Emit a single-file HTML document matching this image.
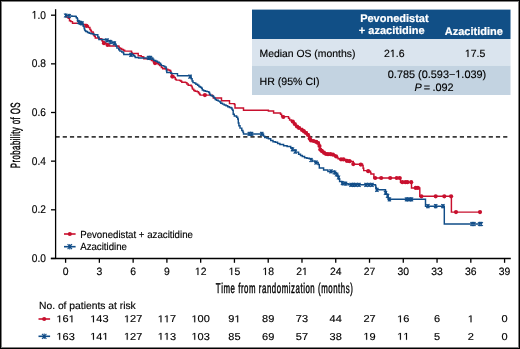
<!DOCTYPE html>
<html><head><meta charset="utf-8"><style>
html,body{margin:0;padding:0;background:#fff;}
#f{position:relative;width:520px;height:349px;overflow:hidden;background:#fff;font-family:"Liberation Sans",sans-serif;}
#b1{position:absolute;left:0;top:0;width:518px;height:347px;border:1px solid #000;}
#b2{position:absolute;left:1px;top:1px;width:516px;height:345px;border:1px solid #808080;}
svg{position:absolute;left:0;top:0;will-change:transform;}
text{font-family:"Liberation Sans",sans-serif;fill:#000;stroke:#000;stroke-width:0.15px;text-rendering:geometricPrecision;font-kerning:none;}
.w{fill:#fff;stroke:#fff;stroke-width:0.2px;}
</style></head><body><div id="f">
<svg width="520" height="349" viewBox="0 0 520 349">
<rect x="252" y="9.6" width="258.5" height="29.4" fill="#114f86"/>
<rect x="252" y="39" width="258.5" height="26.6" fill="#dae4ee"/>
<rect x="252" y="65.6" width="258.5" height="29.4" fill="#c3d3e1"/>
<line x1="55.5" y1="136.9" x2="508" y2="136.9" stroke="#3a3a3a" stroke-width="1.6" stroke-dasharray="4.2 3.02" stroke-dashoffset="0"/>
<line x1="55.6" y1="9.2" x2="55.6" y2="258.9" stroke="#000" stroke-width="1.3"/>
<line x1="50.8" y1="258.45" x2="510.8" y2="258.45" stroke="#000" stroke-width="1.5"/>
<line x1="51" y1="258.45" x2="55.6" y2="258.45" stroke="#000" stroke-width="1.3"/>
<line x1="51" y1="209.80" x2="55.6" y2="209.80" stroke="#000" stroke-width="1.3"/>
<line x1="51" y1="161.15" x2="55.6" y2="161.15" stroke="#000" stroke-width="1.3"/>
<line x1="51" y1="112.50" x2="55.6" y2="112.50" stroke="#000" stroke-width="1.3"/>
<line x1="51" y1="63.85" x2="55.6" y2="63.85" stroke="#000" stroke-width="1.3"/>
<line x1="51" y1="15.20" x2="55.6" y2="15.20" stroke="#000" stroke-width="1.3"/>
<line x1="65.60" y1="258.45" x2="65.60" y2="262.8" stroke="#000" stroke-width="1.3"/>
<line x1="99.37" y1="258.45" x2="99.37" y2="262.8" stroke="#000" stroke-width="1.3"/>
<line x1="133.14" y1="258.45" x2="133.14" y2="262.8" stroke="#000" stroke-width="1.3"/>
<line x1="166.90" y1="258.45" x2="166.90" y2="262.8" stroke="#000" stroke-width="1.3"/>
<line x1="200.67" y1="258.45" x2="200.67" y2="262.8" stroke="#000" stroke-width="1.3"/>
<line x1="234.44" y1="258.45" x2="234.44" y2="262.8" stroke="#000" stroke-width="1.3"/>
<line x1="268.21" y1="258.45" x2="268.21" y2="262.8" stroke="#000" stroke-width="1.3"/>
<line x1="301.98" y1="258.45" x2="301.98" y2="262.8" stroke="#000" stroke-width="1.3"/>
<line x1="335.74" y1="258.45" x2="335.74" y2="262.8" stroke="#000" stroke-width="1.3"/>
<line x1="369.51" y1="258.45" x2="369.51" y2="262.8" stroke="#000" stroke-width="1.3"/>
<line x1="403.28" y1="258.45" x2="403.28" y2="262.8" stroke="#000" stroke-width="1.3"/>
<line x1="437.05" y1="258.45" x2="437.05" y2="262.8" stroke="#000" stroke-width="1.3"/>
<line x1="470.82" y1="258.45" x2="470.82" y2="262.8" stroke="#000" stroke-width="1.3"/>
<line x1="504.58" y1="258.45" x2="504.58" y2="262.8" stroke="#000" stroke-width="1.3"/>
<path d="M65.0 15.4H66.5V16.9H68.2V18.2H69.5V20.8H70.8V21.6H72.5V23.3H82.5V24.4H85.5V25.9H88.4V27.4H89.9V29.4H90.8V30.8H91.4V32.0H93.1V33.0H93.5V35.0H94.4V36.2H95.3V37.9H99.3V38.6H101.0V39.0H101.9V40.8H102.7V42.0H104.0V43.3H106.2V43.8H107.9V45.0H109.6V45.9H118.2V46.3H119.1V47.6H119.9V48.5H121.7V49.4H123.4V50.2H124.7V51.1H131.5V52.4H132.0V53.4H138.2V55.8H141.2V56.6H142.9V57.0H143.8V58.8H150.6V59.6H151.5V60.5H153.2V61.8H154.5V63.1H155.8V63.5H158.4V64.4H159.7V65.6H161.4V67.4H162.7V68.7H165.3V69.1H167.8V69.9H169.6V70.4H170.6V71.5H171.0V73.6H171.9V76.2H174.0V77.5H175.3V79.2H176.2V80.1H179.6V80.5H180.9V81.3H181.8V82.2H185.6V82.6H186.9V83.9H188.2V85.2H191.2V86.1H192.1V87.8H192.5V89.1H193.8V90.4H195.1V91.2H197.3V91.7H198.5V93.0H199.5V94.2H200.2V95.1H212.5V96.3H213.3V98.0H221.5V100.8H229.5V103.6H234.4V104.4H235.0V108.0H243.5V110.3H268.4V110.9H273.6V113.0H280.5V114.2H281.6V115.9H282.5V116.6H288.5V118.2H289.6V119.9H291.4V121.0H293.1V122.2H294.2V124.5H295.9V126.2H298.2V127.3H300.0V128.5H302.2V130.0H304.5V131.9H306.9V133.6H308.6V135.9H309.7V138.8H310.9V140.5H313.8V141.0H317.2V142.2H318.9V143.9H319.5V146.2H320.1V149.6H322.3V151.4H324.6V153.1H326.9V154.2H333.2V154.8H335.0V155.9H336.7V157.5H338.0V158.8H341.9V159.4H345.9V160.9H351.0V161.5H353.3V164.3H362.5V165.5H363.1V168.3H363.7V170.6H368.2V171.2H370.5V172.6H370.9V173.9H373.9V178.0H400.5V182.2H411.5V187.9H419.8V196.3H451.4V212.1H480.0" fill="none" stroke="#c8102e" stroke-width="1.45" stroke-linejoin="miter"/>
<circle cx="86.5" cy="25.9" r="2.1" fill="#c8102e"/>
<circle cx="104" cy="43.2" r="2.1" fill="#c8102e"/>
<circle cx="107.6" cy="45" r="2.1" fill="#c8102e"/>
<circle cx="155" cy="63.1" r="2.1" fill="#c8102e"/>
<circle cx="172.3" cy="76.6" r="2.1" fill="#c8102e"/>
<circle cx="204.9" cy="95.1" r="2.1" fill="#c8102e"/>
<circle cx="283.3" cy="117" r="2.1" fill="#c8102e"/>
<circle cx="292.8" cy="121.6" r="2.1" fill="#c8102e"/>
<circle cx="294.8" cy="124" r="2.1" fill="#c8102e"/>
<circle cx="297" cy="126.5" r="2.1" fill="#c8102e"/>
<circle cx="299" cy="128" r="2.1" fill="#c8102e"/>
<circle cx="302" cy="130" r="2.1" fill="#c8102e"/>
<circle cx="304" cy="131.5" r="2.1" fill="#c8102e"/>
<circle cx="306" cy="133" r="2.1" fill="#c8102e"/>
<circle cx="308" cy="135" r="2.1" fill="#c8102e"/>
<circle cx="309.7" cy="138.6" r="2.1" fill="#c8102e"/>
<circle cx="311" cy="140.5" r="2.1" fill="#c8102e"/>
<circle cx="313.5" cy="141" r="2.1" fill="#c8102e"/>
<circle cx="316" cy="141.8" r="2.1" fill="#c8102e"/>
<circle cx="318" cy="143" r="2.1" fill="#c8102e"/>
<circle cx="319.5" cy="146" r="2.1" fill="#c8102e"/>
<circle cx="320.3" cy="149.6" r="2.1" fill="#c8102e"/>
<circle cx="322" cy="151.2" r="2.1" fill="#c8102e"/>
<circle cx="324" cy="152.8" r="2.1" fill="#c8102e"/>
<circle cx="326" cy="154" r="2.1" fill="#c8102e"/>
<circle cx="328" cy="154.2" r="2.1" fill="#c8102e"/>
<circle cx="330.5" cy="154.2" r="2.1" fill="#c8102e"/>
<circle cx="333" cy="154.7" r="2.1" fill="#c8102e"/>
<circle cx="336" cy="156.3" r="2.1" fill="#c8102e"/>
<circle cx="341" cy="159.3" r="2.1" fill="#c8102e"/>
<circle cx="343.5" cy="159.4" r="2.1" fill="#c8102e"/>
<circle cx="347" cy="160.9" r="2.1" fill="#c8102e"/>
<circle cx="349.5" cy="161.2" r="2.1" fill="#c8102e"/>
<circle cx="353.3" cy="164.1" r="2.1" fill="#c8102e"/>
<circle cx="360.8" cy="164.6" r="2.1" fill="#c8102e"/>
<circle cx="368.2" cy="171.2" r="2.1" fill="#c8102e"/>
<circle cx="375.2" cy="178" r="2.1" fill="#c8102e"/>
<circle cx="381.2" cy="178" r="2.1" fill="#c8102e"/>
<circle cx="390.2" cy="178" r="2.1" fill="#c8102e"/>
<circle cx="396.7" cy="178" r="2.1" fill="#c8102e"/>
<circle cx="399.7" cy="178" r="2.1" fill="#c8102e"/>
<circle cx="402.3" cy="182.2" r="2.1" fill="#c8102e"/>
<circle cx="405.3" cy="182.2" r="2.1" fill="#c8102e"/>
<circle cx="407.4" cy="182.2" r="2.1" fill="#c8102e"/>
<circle cx="411.2" cy="182.2" r="2.1" fill="#c8102e"/>
<circle cx="415.7" cy="187.9" r="2.1" fill="#c8102e"/>
<circle cx="417.9" cy="187.9" r="2.1" fill="#c8102e"/>
<circle cx="421.4" cy="196.3" r="2.1" fill="#c8102e"/>
<circle cx="435.7" cy="196.3" r="2.1" fill="#c8102e"/>
<circle cx="444.3" cy="196.3" r="2.1" fill="#c8102e"/>
<circle cx="451.1" cy="196.3" r="2.1" fill="#c8102e"/>
<circle cx="456" cy="212.1" r="2.1" fill="#c8102e"/>
<circle cx="480" cy="212.1" r="2.1" fill="#c8102e"/>
<path d="M65.0 15.4H68.6V16.0H72.0V16.2H75.5V16.5H76.3V17.7H77.2V18.6H77.6V21.2H78.5V22.0H80.2V22.9H81.9V23.3H82.8V24.2H83.2V26.3H84.1V28.1H84.5V29.4H84.9V30.6H85.8V31.5H87.5V32.4H89.2V33.2H91.0V33.7H92.7V34.1H94.4V34.8H97.8V37.0H98.9V39.5H105.3V39.9H107.9V40.8H109.6V42.0H112.2V42.9H115.2V44.2H116.1V46.3H116.9V48.1H118.7V49.8H119.9V51.1H121.7V51.9H123.4V53.2H123.8V54.4H130.3V54.8H133.4V55.4H134.3V56.3H135.2V57.5H138.6V57.9H152.8V59.2H153.7V60.5H155.8V61.3H157.5V62.2H159.2V63.1H160.5V64.4H161.4V65.6H163.5V66.1H164.8V66.9H166.1V68.2H166.4V70.8H166.8V72.5H171.0V73.2H171.9V73.6H177.5V75.8H190.8V77.0H191.2V78.8H192.1V80.9H193.0V82.6H194.7V83.1H195.9V84.3H197.6V85.2H198.9V86.5H200.2V87.3H201.5V88.2H202.3V89.9H203.6V90.8H205.3V91.2H207.0V91.6H208.8V92.5H209.6V94.2H210.5V95.5H212.2V95.9H213.5V97.2H214.4V98.1H215.2V99.4H216.5V100.2H218.2V101.1H219.9V101.9H220.8V103.2H222.5V104.1H224.2V104.9H226.0V105.8H227.7V106.7H229.4V107.5H231.1V108.0H232.0V109.2H232.6V110.3H233.2V114.3H234.3V116.0H236.6V117.2H237.7V118.9H238.3V122.9H238.9V125.8H240.0V128.1H241.8V130.4H242.9V132.1H243.5V134.0H263.5V136.1H264.7V137.4H266.7V137.9H268.4V138.8H270.7V140.5H273.0V141.7H275.3V142.2H277.6V143.4H279.9V144.5H283.6V145.7H287.1V146.4H290.7V147.9H292.1V150.0H295.7V152.1H298.6V154.3H300.5V155.4H302.3V156.5H304.6V157.7H306.9V158.2H309.2V158.8H310.9V160.0H312.6V161.1H314.9V162.2H317.8V162.8H318.2V164.5H319.3V167.9H323.6V170.0H327.9V171.4H334.3V172.5H336.1V174.1H337.9V176.9H339.0V178.7H339.6V181.5H341.9V183.2H346.5V183.8H348.2V184.8H375.4V185.5H375.8V187.5H376.3V189.8H385.5V192.4H386.3V194.1H387.6V195.8H388.1V199.3H425.5V206.2H444.3V224.0H482.1" fill="none" stroke="#114d88" stroke-width="1.45" stroke-linejoin="miter"/>
<path d="M64.00 13.50L67.20 17.50M64.00 17.50L67.20 13.50M65.60 13.30V17.70" stroke="#114d88" stroke-width="1.05"/>
<path d="M67.60 14.00L70.80 18.00M67.60 18.00L70.80 14.00M69.20 13.80V18.20" stroke="#114d88" stroke-width="1.05"/>
<path d="M76.90 20.00L80.10 24.00M76.90 24.00L80.10 20.00M78.50 19.80V24.20" stroke="#114d88" stroke-width="1.05"/>
<path d="M78.90 20.90L82.10 24.90M78.90 24.90L82.10 20.90M80.50 20.70V25.10" stroke="#114d88" stroke-width="1.05"/>
<path d="M80.40 21.30L83.60 25.30M80.40 25.30L83.60 21.30M82.00 21.10V25.50" stroke="#114d88" stroke-width="1.05"/>
<path d="M105.40 38.40L108.60 42.40M105.40 42.40L108.60 38.40M107.00 38.20V42.60" stroke="#114d88" stroke-width="1.05"/>
<path d="M109.00 40.00L112.20 44.00M109.00 44.00L112.20 40.00M110.60 39.80V44.20" stroke="#114d88" stroke-width="1.05"/>
<path d="M112.70 41.30L115.90 45.30M112.70 45.30L115.90 41.30M114.30 41.10V45.50" stroke="#114d88" stroke-width="1.05"/>
<path d="M129.40 52.80L132.60 56.80M129.40 56.80L132.60 52.80M131.00 52.60V57.00" stroke="#114d88" stroke-width="1.05"/>
<path d="M146.90 55.90L150.10 59.90M146.90 59.90L150.10 55.90M148.50 55.70V60.10" stroke="#114d88" stroke-width="1.05"/>
<path d="M148.90 55.90L152.10 59.90M148.90 59.90L152.10 55.90M150.50 55.70V60.10" stroke="#114d88" stroke-width="1.05"/>
<path d="M188.40 74.60L191.60 78.60M188.40 78.60L191.60 74.60M190.00 74.40V78.80" stroke="#114d88" stroke-width="1.05"/>
<path d="M247.70 131.90L250.90 135.90M247.70 135.90L250.90 131.90M249.30 131.70V136.10" stroke="#114d88" stroke-width="1.05"/>
<path d="M250.00 131.90L253.20 135.90M250.00 135.90L253.20 131.90M251.60 131.70V136.10" stroke="#114d88" stroke-width="1.05"/>
<path d="M260.20 131.90L263.40 135.90M260.20 135.90L263.40 131.90M261.80 131.70V136.10" stroke="#114d88" stroke-width="1.05"/>
<path d="M290.90 147.30L294.10 151.30M290.90 151.30L294.10 147.30M292.50 147.10V151.50" stroke="#114d88" stroke-width="1.05"/>
<path d="M293.60 149.60L296.80 153.60M293.60 153.60L296.80 149.60M295.20 149.40V153.80" stroke="#114d88" stroke-width="1.05"/>
<path d="M309.40 158.00L312.60 162.00M309.40 162.00L312.60 158.00M311.00 157.80V162.20" stroke="#114d88" stroke-width="1.05"/>
<path d="M314.40 160.50L317.60 164.50M314.40 164.50L317.60 160.50M316.00 160.30V164.70" stroke="#114d88" stroke-width="1.05"/>
<path d="M334.90 172.50L338.10 176.50M334.90 176.50L338.10 172.50M336.50 172.30V176.70" stroke="#114d88" stroke-width="1.05"/>
<path d="M336.90 175.50L340.10 179.50M336.90 179.50L340.10 175.50M338.50 175.30V179.70" stroke="#114d88" stroke-width="1.05"/>
<path d="M329.40 169.40L332.60 173.40M329.40 173.40L332.60 169.40M331.00 169.20V173.60" stroke="#114d88" stroke-width="1.05"/>
<path d="M332.90 170.50L336.10 174.50M332.90 174.50L336.10 170.50M334.50 170.30V174.70" stroke="#114d88" stroke-width="1.05"/>
<path d="M340.90 181.20L344.10 185.20M340.90 185.20L344.10 181.20M342.50 181.00V185.40" stroke="#114d88" stroke-width="1.05"/>
<path d="M343.90 181.60L347.10 185.60M343.90 185.60L347.10 181.60M345.50 181.40V185.80" stroke="#114d88" stroke-width="1.05"/>
<path d="M349.40 182.85L352.60 186.85M349.40 186.85L352.60 182.85M351.00 182.65V187.05" stroke="#114d88" stroke-width="1.05"/>
<path d="M351.90 182.85L355.10 186.85M351.90 186.85L355.10 182.85M353.50 182.65V187.05" stroke="#114d88" stroke-width="1.05"/>
<path d="M354.40 182.85L357.60 186.85M354.40 186.85L357.60 182.85M356.00 182.65V187.05" stroke="#114d88" stroke-width="1.05"/>
<path d="M357.40 182.85L360.60 186.85M357.40 186.85L360.60 182.85M359.00 182.65V187.05" stroke="#114d88" stroke-width="1.05"/>
<path d="M364.40 182.85L367.60 186.85M364.40 186.85L367.60 182.85M366.00 182.65V187.05" stroke="#114d88" stroke-width="1.05"/>
<path d="M367.40 182.85L370.60 186.85M367.40 186.85L370.60 182.85M369.00 182.65V187.05" stroke="#114d88" stroke-width="1.05"/>
<path d="M370.40 182.85L373.60 186.85M370.40 186.85L373.60 182.85M372.00 182.65V187.05" stroke="#114d88" stroke-width="1.05"/>
<path d="M375.30 187.80L378.50 191.80M375.30 191.80L378.50 187.80M376.90 187.60V192.00" stroke="#114d88" stroke-width="1.05"/>
<path d="M383.90 190.80L387.10 194.80M383.90 194.80L387.10 190.80M385.50 190.60V195.00" stroke="#114d88" stroke-width="1.05"/>
<path d="M386.00 193.80L389.20 197.80M386.00 197.80L389.20 193.80M387.60 193.60V198.00" stroke="#114d88" stroke-width="1.05"/>
<path d="M387.80 197.35L391.00 201.35M387.80 201.35L391.00 197.35M389.40 197.15V201.55" stroke="#114d88" stroke-width="1.05"/>
<path d="M404.90 197.35L408.10 201.35M404.90 201.35L408.10 197.35M406.50 197.15V201.55" stroke="#114d88" stroke-width="1.05"/>
<path d="M407.40 197.35L410.60 201.35M407.40 201.35L410.60 197.35M409.00 197.15V201.55" stroke="#114d88" stroke-width="1.05"/>
<path d="M409.90 197.35L413.10 201.35M409.90 201.35L413.10 197.35M411.50 197.15V201.55" stroke="#114d88" stroke-width="1.05"/>
<path d="M426.30 204.20L429.50 208.20M426.30 208.20L429.50 204.20M427.90 204.00V208.40" stroke="#114d88" stroke-width="1.05"/>
<path d="M434.10 204.20L437.30 208.20M434.10 208.20L437.30 204.20M435.70 204.00V208.40" stroke="#114d88" stroke-width="1.05"/>
<path d="M441.30 204.20L444.50 208.20M441.30 208.20L444.50 204.20M442.90 204.00V208.40" stroke="#114d88" stroke-width="1.05"/>
<path d="M470.40 222.00L473.60 226.00M470.40 226.00L473.60 222.00M472.00 221.80V226.20" stroke="#114d88" stroke-width="1.05"/>
<path d="M472.40 222.00L475.60 226.00M472.40 226.00L475.60 222.00M474.00 221.80V226.20" stroke="#114d88" stroke-width="1.05"/>
<path d="M478.00 222.00L481.20 226.00M478.00 226.00L481.20 222.00M479.60 221.80V226.20" stroke="#114d88" stroke-width="1.05"/>
<path d="M479.70 222.00L482.90 226.00M479.70 226.00L482.90 222.00M481.30 221.80V226.20" stroke="#114d88" stroke-width="1.05"/>
<line x1="64" y1="234" x2="75.6" y2="234" stroke="#c8102e" stroke-width="1.6"/><circle cx="69.8" cy="234" r="2.1" fill="#c8102e"/>
<line x1="64" y1="246.7" x2="75.6" y2="246.7" stroke="#114d88" stroke-width="1.6"/>
<path d="M67.60 244.20L72.00 249.20M67.60 249.20L72.00 244.20M69.80 244.00V249.40" stroke="#114d88" stroke-width="1.05"/>
<line x1="38.5" y1="319" x2="50.1" y2="319" stroke="#c8102e" stroke-width="1.6"/><circle cx="44.2" cy="319" r="2.1" fill="#c8102e"/>
<line x1="38.5" y1="336.3" x2="50.1" y2="336.3" stroke="#114d88" stroke-width="1.6"/>
<path d="M42.00 333.80L46.40 338.80M42.00 338.80L46.40 333.80M44.20 333.60V339.00" stroke="#114d88" stroke-width="1.05"/>
<text x="45.90" y="262.05" font-size="10.2" text-anchor="end" transform="translate(0 262.05) scale(1 1.1) translate(0 -262.05)">0.0</text>
<text x="45.90" y="213.40" font-size="10.2" text-anchor="end" transform="translate(0 213.4) scale(1 1.1) translate(0 -213.4)">0.2</text>
<text x="45.90" y="164.75" font-size="10.2" text-anchor="end" transform="translate(0 164.75) scale(1 1.1) translate(0 -164.75)">0.4</text>
<text x="45.90" y="116.10" font-size="10.2" text-anchor="end" transform="translate(0 116.1) scale(1 1.1) translate(0 -116.1)">0.6</text>
<text x="45.90" y="67.45" font-size="10.2" text-anchor="end" transform="translate(0 67.45) scale(1 1.1) translate(0 -67.45)">0.8</text>
<text x="45.90" y="18.80" font-size="10.2" text-anchor="end" transform="translate(0 18.8) scale(1 1.1) translate(0 -18.8)"> .0</text>
<path d="M515 0L696 0L696 1409L530 1409L197 1180L197 1010L515 1237Z" transform="translate(31.721 18.800) scale(0.004980 -0.005479)" fill="#000" stroke="#000" stroke-width="0.15" vector-effect="non-scaling-stroke"/>
<text x="65.60" y="275.00" font-size="10.4" text-anchor="middle" transform="translate(0 275) scale(1 1.02) translate(0 -275)">0</text>
<text x="99.37" y="275.00" font-size="10.4" text-anchor="middle" transform="translate(0 275) scale(1 1.02) translate(0 -275)">3</text>
<text x="133.14" y="275.00" font-size="10.4" text-anchor="middle" transform="translate(0 275) scale(1 1.02) translate(0 -275)">6</text>
<text x="166.90" y="275.00" font-size="10.4" text-anchor="middle" transform="translate(0 275) scale(1 1.02) translate(0 -275)">9</text>
<text x="200.67" y="275.00" font-size="10.4" text-anchor="middle" transform="translate(0 275) scale(1 1.02) translate(0 -275)"> 2</text>
<path d="M515 0L696 0L696 1409L530 1409L197 1180L197 1010L515 1237Z" transform="translate(194.886 275.000) scale(0.005078 -0.005180)" fill="#000" stroke="#000" stroke-width="0.15" vector-effect="non-scaling-stroke"/>
<text x="234.44" y="275.00" font-size="10.4" text-anchor="middle" transform="translate(0 275) scale(1 1.02) translate(0 -275)"> 5</text>
<path d="M515 0L696 0L696 1409L530 1409L197 1180L197 1010L515 1237Z" transform="translate(228.656 275.000) scale(0.005078 -0.005180)" fill="#000" stroke="#000" stroke-width="0.15" vector-effect="non-scaling-stroke"/>
<text x="268.21" y="275.00" font-size="10.4" text-anchor="middle" transform="translate(0 275) scale(1 1.02) translate(0 -275)"> 8</text>
<path d="M515 0L696 0L696 1409L530 1409L197 1180L197 1010L515 1237Z" transform="translate(262.426 275.000) scale(0.005078 -0.005180)" fill="#000" stroke="#000" stroke-width="0.15" vector-effect="non-scaling-stroke"/>
<text x="301.98" y="275.00" font-size="10.4" text-anchor="middle" transform="translate(0 275) scale(1 1.02) translate(0 -275)">2 </text>
<path d="M515 0L696 0L696 1409L530 1409L197 1180L197 1010L515 1237Z" transform="translate(301.980 275.000) scale(0.005078 -0.005180)" fill="#000" stroke="#000" stroke-width="0.15" vector-effect="non-scaling-stroke"/>
<text x="335.74" y="275.00" font-size="10.4" text-anchor="middle" transform="translate(0 275) scale(1 1.02) translate(0 -275)">24</text>
<text x="369.51" y="275.00" font-size="10.4" text-anchor="middle" transform="translate(0 275) scale(1 1.02) translate(0 -275)">27</text>
<text x="403.28" y="275.00" font-size="10.4" text-anchor="middle" transform="translate(0 275) scale(1 1.02) translate(0 -275)">30</text>
<text x="437.05" y="275.00" font-size="10.4" text-anchor="middle" transform="translate(0 275) scale(1 1.02) translate(0 -275)">33</text>
<text x="470.82" y="275.00" font-size="10.4" text-anchor="middle" transform="translate(0 275) scale(1 1.02) translate(0 -275)">36</text>
<text x="504.58" y="275.00" font-size="10.4" text-anchor="middle" transform="translate(0 275) scale(1 1.02) translate(0 -275)">39</text>
<text x="284.6" y="293.1" font-size="14.2" text-anchor="middle" font-weight="normal" letter-spacing="1.0" style="stroke-width:0.45px" transform="translate(284.6 0) scale(0.553 1) translate(-284.6 0)">Time from randomization (months)</text>
<text font-size="13.4" text-anchor="middle" letter-spacing="0.7" style="stroke-width:0.4px" transform="translate(20.2 135.1) rotate(-90) scale(0.59 1)">Probability of OS</text>
<text x="80.2" y="237.6" font-size="10.3" text-anchor="start" font-weight="normal" transform="translate(80.2 0) scale(0.94 1) translate(-80.2 0)">Pevonedistat + azacitidine</text>
<text x="80.2" y="250.1" font-size="10.3" text-anchor="start" font-weight="normal" transform="translate(80.2 0) scale(0.94 1) translate(-80.2 0)">Azacitidine</text>
<text x="39" y="308.6" font-size="10.3" text-anchor="start" font-weight="normal" >No. of patients at risk</text>
<text x="65.60" y="322.30" font-size="10" text-anchor="middle" transform="translate(65.6 0) scale(1.1 1) translate(-65.6 0)"> 6 </text>
<path d="M515 0L696 0L696 1409L530 1409L197 1180L197 1010L515 1237Z" transform="translate(56.423 322.300) scale(0.005371 -0.004883)" fill="#000" stroke="#000" stroke-width="0.15" vector-effect="non-scaling-stroke"/>
<path d="M515 0L696 0L696 1409L530 1409L197 1180L197 1010L515 1237Z" transform="translate(68.659 322.300) scale(0.005371 -0.004883)" fill="#000" stroke="#000" stroke-width="0.15" vector-effect="non-scaling-stroke"/>
<text x="65.60" y="339.80" font-size="10" text-anchor="middle" transform="translate(65.6 0) scale(1.1 1) translate(-65.6 0)"> 63</text>
<path d="M515 0L696 0L696 1409L530 1409L197 1180L197 1010L515 1237Z" transform="translate(56.423 339.800) scale(0.005371 -0.004883)" fill="#000" stroke="#000" stroke-width="0.15" vector-effect="non-scaling-stroke"/>
<text x="99.37" y="322.30" font-size="10" text-anchor="middle" transform="translate(99.37 0) scale(1.1 1) translate(-99.37 0)"> 43</text>
<path d="M515 0L696 0L696 1409L530 1409L197 1180L197 1010L515 1237Z" transform="translate(90.193 322.300) scale(0.005371 -0.004883)" fill="#000" stroke="#000" stroke-width="0.15" vector-effect="non-scaling-stroke"/>
<text x="99.37" y="339.80" font-size="10" text-anchor="middle" transform="translate(99.37 0) scale(1.1 1) translate(-99.37 0)"> 4 </text>
<path d="M515 0L696 0L696 1409L530 1409L197 1180L197 1010L515 1237Z" transform="translate(90.193 339.800) scale(0.005371 -0.004883)" fill="#000" stroke="#000" stroke-width="0.15" vector-effect="non-scaling-stroke"/>
<path d="M515 0L696 0L696 1409L530 1409L197 1180L197 1010L515 1237Z" transform="translate(102.429 339.800) scale(0.005371 -0.004883)" fill="#000" stroke="#000" stroke-width="0.15" vector-effect="non-scaling-stroke"/>
<text x="133.14" y="322.30" font-size="10" text-anchor="middle" transform="translate(133.14 0) scale(1.1 1) translate(-133.14 0)"> 27</text>
<path d="M515 0L696 0L696 1409L530 1409L197 1180L197 1010L515 1237Z" transform="translate(123.963 322.300) scale(0.005371 -0.004883)" fill="#000" stroke="#000" stroke-width="0.15" vector-effect="non-scaling-stroke"/>
<text x="133.14" y="339.80" font-size="10" text-anchor="middle" transform="translate(133.14 0) scale(1.1 1) translate(-133.14 0)"> 27</text>
<path d="M515 0L696 0L696 1409L530 1409L197 1180L197 1010L515 1237Z" transform="translate(123.963 339.800) scale(0.005371 -0.004883)" fill="#000" stroke="#000" stroke-width="0.15" vector-effect="non-scaling-stroke"/>
<text x="166.90" y="322.30" font-size="10" text-anchor="middle" transform="translate(166.9 0) scale(1.1 1) translate(-166.9 0)">  7</text>
<path d="M515 0L696 0L696 1409L530 1409L197 1180L197 1010L515 1237Z" transform="translate(157.723 322.300) scale(0.005371 -0.004883)" fill="#000" stroke="#000" stroke-width="0.15" vector-effect="non-scaling-stroke"/>
<path d="M515 0L696 0L696 1409L530 1409L197 1180L197 1010L515 1237Z" transform="translate(163.841 322.300) scale(0.005371 -0.004883)" fill="#000" stroke="#000" stroke-width="0.15" vector-effect="non-scaling-stroke"/>
<text x="166.90" y="339.80" font-size="10" text-anchor="middle" transform="translate(166.9 0) scale(1.1 1) translate(-166.9 0)">  3</text>
<path d="M515 0L696 0L696 1409L530 1409L197 1180L197 1010L515 1237Z" transform="translate(157.723 339.800) scale(0.005371 -0.004883)" fill="#000" stroke="#000" stroke-width="0.15" vector-effect="non-scaling-stroke"/>
<path d="M515 0L696 0L696 1409L530 1409L197 1180L197 1010L515 1237Z" transform="translate(163.841 339.800) scale(0.005371 -0.004883)" fill="#000" stroke="#000" stroke-width="0.15" vector-effect="non-scaling-stroke"/>
<text x="200.67" y="322.30" font-size="10" text-anchor="middle" transform="translate(200.67 0) scale(1.1 1) translate(-200.67 0)"> 00</text>
<path d="M515 0L696 0L696 1409L530 1409L197 1180L197 1010L515 1237Z" transform="translate(191.493 322.300) scale(0.005371 -0.004883)" fill="#000" stroke="#000" stroke-width="0.15" vector-effect="non-scaling-stroke"/>
<text x="200.67" y="339.80" font-size="10" text-anchor="middle" transform="translate(200.67 0) scale(1.1 1) translate(-200.67 0)"> 03</text>
<path d="M515 0L696 0L696 1409L530 1409L197 1180L197 1010L515 1237Z" transform="translate(191.493 339.800) scale(0.005371 -0.004883)" fill="#000" stroke="#000" stroke-width="0.15" vector-effect="non-scaling-stroke"/>
<text x="234.44" y="322.30" font-size="10" text-anchor="middle" transform="translate(234.44 0) scale(1.1 1) translate(-234.44 0)">9 </text>
<path d="M515 0L696 0L696 1409L530 1409L197 1180L197 1010L515 1237Z" transform="translate(234.440 322.300) scale(0.005371 -0.004883)" fill="#000" stroke="#000" stroke-width="0.15" vector-effect="non-scaling-stroke"/>
<text x="234.44" y="339.80" font-size="10" text-anchor="middle" transform="translate(234.44 0) scale(1.1 1) translate(-234.44 0)">85</text>
<text x="268.21" y="322.30" font-size="10" text-anchor="middle" transform="translate(268.21 0) scale(1.1 1) translate(-268.21 0)">89</text>
<text x="268.21" y="339.80" font-size="10" text-anchor="middle" transform="translate(268.21 0) scale(1.1 1) translate(-268.21 0)">69</text>
<text x="301.98" y="322.30" font-size="10" text-anchor="middle" transform="translate(301.98 0) scale(1.1 1) translate(-301.98 0)">73</text>
<text x="301.98" y="339.80" font-size="10" text-anchor="middle" transform="translate(301.98 0) scale(1.1 1) translate(-301.98 0)">57</text>
<text x="335.74" y="322.30" font-size="10" text-anchor="middle" transform="translate(335.74 0) scale(1.1 1) translate(-335.74 0)">44</text>
<text x="335.74" y="339.80" font-size="10" text-anchor="middle" transform="translate(335.74 0) scale(1.1 1) translate(-335.74 0)">38</text>
<text x="369.51" y="322.30" font-size="10" text-anchor="middle" transform="translate(369.51 0) scale(1.1 1) translate(-369.51 0)">27</text>
<text x="369.51" y="339.80" font-size="10" text-anchor="middle" transform="translate(369.51 0) scale(1.1 1) translate(-369.51 0)"> 9</text>
<path d="M515 0L696 0L696 1409L530 1409L197 1180L197 1010L515 1237Z" transform="translate(363.392 339.800) scale(0.005371 -0.004883)" fill="#000" stroke="#000" stroke-width="0.15" vector-effect="non-scaling-stroke"/>
<text x="403.28" y="322.30" font-size="10" text-anchor="middle" transform="translate(403.28 0) scale(1.1 1) translate(-403.28 0)"> 6</text>
<path d="M515 0L696 0L696 1409L530 1409L197 1180L197 1010L515 1237Z" transform="translate(397.162 322.300) scale(0.005371 -0.004883)" fill="#000" stroke="#000" stroke-width="0.15" vector-effect="non-scaling-stroke"/>
<path d="M515 0L696 0L696 1409L530 1409L197 1180L197 1010L515 1237Z" transform="translate(397.162 339.800) scale(0.005371 -0.004883)" fill="#000" stroke="#000" stroke-width="0.15" vector-effect="non-scaling-stroke"/>
<path d="M515 0L696 0L696 1409L530 1409L197 1180L197 1010L515 1237Z" transform="translate(403.280 339.800) scale(0.005371 -0.004883)" fill="#000" stroke="#000" stroke-width="0.15" vector-effect="non-scaling-stroke"/>
<text x="437.05" y="322.30" font-size="10" text-anchor="middle" transform="translate(437.05 0) scale(1.1 1) translate(-437.05 0)">6</text>
<text x="437.05" y="339.80" font-size="10" text-anchor="middle" transform="translate(437.05 0) scale(1.1 1) translate(-437.05 0)">5</text>
<path d="M515 0L696 0L696 1409L530 1409L197 1180L197 1010L515 1237Z" transform="translate(467.761 322.300) scale(0.005371 -0.004883)" fill="#000" stroke="#000" stroke-width="0.15" vector-effect="non-scaling-stroke"/>
<text x="470.82" y="339.80" font-size="10" text-anchor="middle" transform="translate(470.82 0) scale(1.1 1) translate(-470.82 0)">2</text>
<text x="504.58" y="322.30" font-size="10" text-anchor="middle" transform="translate(504.58 0) scale(1.1 1) translate(-504.58 0)">0</text>
<text x="504.58" y="339.80" font-size="10" text-anchor="middle" transform="translate(504.58 0) scale(1.1 1) translate(-504.58 0)">0</text>
<text x="394.30" y="57.00" font-size="10.5" text-anchor="middle">2 .6</text>
<path d="M515 0L696 0L696 1409L530 1409L197 1180L197 1010L515 1237Z" transform="translate(389.922 57.000) scale(0.005127 -0.005127)" fill="#000" stroke="#000" stroke-width="0.15" vector-effect="non-scaling-stroke"/>
<text x="475.10" y="57.00" font-size="10.5" text-anchor="middle"> 7.5</text>
<path d="M515 0L696 0L696 1409L530 1409L197 1180L197 1010L515 1237Z" transform="translate(464.882 57.000) scale(0.005127 -0.005127)" fill="#000" stroke="#000" stroke-width="0.15" vector-effect="non-scaling-stroke"/>
<text x="437.00" y="77.80" font-size="10.9" text-anchor="middle">0.785 (0.593− .039)</text>
<path d="M515 0L696 0L696 1409L530 1409L197 1180L197 1010L515 1237Z" transform="translate(455.335 77.800) scale(0.005322 -0.005322)" fill="#000" stroke="#000" stroke-width="0.15" vector-effect="non-scaling-stroke"/>
<g fill="#fff" font-weight="bold">
<text x="394.4" y="21.8" font-size="11" text-anchor="middle" class="w">Pevonedistat</text>
<text x="391.7" y="34.3" font-size="11" text-anchor="middle" class="w">+ azacitidine</text>
<text x="473.8" y="34.6" font-size="11" text-anchor="middle" class="w">Azacitidine</text>
</g>
<text x="259.5" y="56.8" font-size="10.4">Median OS (months)</text>
<text x="259.5" y="85" font-size="10.6">HR (95% CI)</text>
<text x="434" y="91" font-size="10.9" text-anchor="middle"><tspan font-style="italic">P</tspan> = .092</text>
</svg>
<div id="b1"></div><div id="b2"></div>
</div></body></html>
